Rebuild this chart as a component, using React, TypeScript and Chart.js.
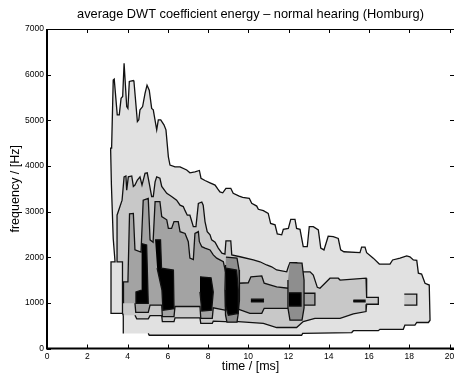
import React, { useEffect, useRef } from 'react';
import { Chart, registerables } from 'chart.js';

Chart.register(...registerables);

const TITLE = 'average DWT coefficient energy – normal hearing (Homburg)';
const X_LABEL = 'time / [ms]';
const Y_LABEL = 'frequency / [Hz]';
const X_TICKS = [0, 2, 4, 6, 8, 10, 12, 14, 16, 18, 20];
const Y_TICKS = [0, 1000, 2000, 3000, 4000, 5000, 6000, 7000];

// Contour regions: time in ms, frequency in Hz
// Level 1 (lowest energy, outermost region)
const L1_T = [3.79, 3.79, 3.18, 3.18, 3.38, 3.29, 3.20, 3.16, 3.21, 3.29, 3.34, 3.49, 3.59, 3.68, 3.76, 3.83, 3.96, 4.02, 4.09, 4.29, 4.32, 4.49, 4.56, 4.62, 4.75, 4.87, 4.97, 5.08, 5.20, 5.28, 5.45, 5.53, 5.65, 5.81, 5.91, 6.03, 6.11, 6.36, 6.61, 6.94, 7.10, 7.35, 7.57, 7.65, 7.85, 8.10, 8.35, 8.49, 8.59, 8.73, 8.89, 9.13, 9.25, 9.55, 9.72, 10.05, 10.17, 10.42, 10.50, 10.75, 10.99, 11.11, 11.33, 11.44, 11.66, 11.74, 11.99, 12.11, 12.32, 12.40, 12.57, 12.73, 12.93, 13.03, 13.23, 13.48, 13.60, 13.76, 13.97, 14.22, 14.47, 14.59, 14.75, 15.55, 15.63, 15.80, 15.88, 16.21, 16.51, 17.04, 17.17, 17.54, 17.87, 18.03, 18.20, 18.37, 18.45, 18.61, 18.78, 18.99, 19.03, 18.95, 18.37, 18.28, 17.78, 17.70, 16.54, 16.46, 15.22, 15.14, 12.70, 12.65, 5.08, 5.03];
const L1_F = [330, 770, 770, 1900, 1900, 2410, 3580, 4390, 4390, 5880, 5900, 5120, 5120, 5480, 5520, 6250, 5300, 5260, 5850, 5870, 5850, 4970, 5010, 5230, 5300, 5590, 5770, 5660, 5260, 5230, 4790, 5010, 5010, 4900, 4790, 4200, 4020, 3980, 3980, 3910, 3850, 3870, 3900, 3730, 3680, 3630, 3580, 3490, 3430, 3410, 3510, 3510, 3400, 3340, 3310, 3290, 3180, 3120, 3050, 3020, 2960, 2740, 2710, 2510, 2490, 2610, 2630, 2830, 2830, 2630, 2610, 2230, 2230, 2670, 2670, 2600, 2200, 2160, 2460, 2450, 2410, 2160, 2120, 2100, 2220, 2220, 2100, 1980, 1850, 1850, 1940, 1980, 2030, 2010, 1940, 1930, 1650, 1630, 1430, 1390, 620, 570, 570, 510, 510, 420, 420, 390, 390, 350, 330, 290, 290, 330];

// Level 2
const L2_T = [3.79, 3.75, 3.75, 3.48, 3.48, 3.73, 3.83, 3.92, 3.96, 4.04, 4.21, 4.29, 4.37, 4.49, 4.62, 4.72, 4.87, 4.98, 5.08, 5.20, 5.28, 5.37, 5.45, 5.61, 5.70, 5.95, 6.19, 6.44, 6.61, 6.77, 6.86, 6.97, 7.10, 7.27, 7.40, 7.52, 7.69, 7.76, 7.85, 7.96, 8.10, 8.18, 8.35, 8.51, 8.69, 8.84, 8.89, 9.13, 9.18, 9.59, 10.25, 10.58, 10.91, 11.16, 11.41, 11.91, 11.99, 12.07, 12.40, 12.57, 12.65, 13.07, 13.23, 13.43, 13.56, 13.97, 14.06, 14.47, 14.56, 15.22, 15.85, 15.88, 16.46, 16.46, 15.88, 15.85, 15.22, 14.56, 13.31, 12.73, 12.40, 11.41, 10.75, 9.50, 8.84, 8.26, 8.21, 7.64, 7.60, 6.36, 6.31, 5.73, 5.70, 5.12, 5.03, 4.46, 4.37];
const L2_F = [730, 780, 1900, 1900, 2920, 3250, 3760, 3780, 3470, 3760, 3780, 3550, 3580, 3690, 3760, 3580, 3840, 3850, 3620, 3330, 3330, 3650, 3760, 3730, 3550, 3400, 3330, 3250, 3140, 3110, 3020, 2920, 2920, 2670, 2670, 3180, 3210, 3140, 2780, 2560, 2490, 2380, 2330, 2200, 2090, 2070, 2360, 2360, 2050, 2010, 1940, 1900, 1830, 1790, 1720, 1680, 1790, 1880, 1880, 1790, 1680, 1680, 1610, 1340, 1320, 1500, 1540, 1540, 1500, 1520, 1540, 1120, 1120, 970, 970, 810, 760, 660, 660, 590, 460, 460, 550, 590, 590, 600, 550, 550, 670, 670, 590, 590, 720, 720, 650, 650, 730];
const L2_ISLAND_T = [17.75, 18.37, 18.37, 17.75];
const L2_ISLAND_F = [1190, 1190, 950, 950];

// Level 3
const L3_T = [3.80, 3.80, 4.02, 4.10, 4.29, 4.37, 4.67, 4.78, 5.03, 5.12, 5.27, 5.37, 5.61, 5.70, 5.95, 6.03, 6.19, 6.31, 6.52, 6.61, 6.86, 7.02, 7.10, 7.27, 7.35, 7.52, 7.57, 7.69, 7.85, 8.10, 8.26, 8.43, 8.76, 8.87, 9.50, 10.00, 10.13, 10.67, 10.79, 11.41, 11.99, 12.73, 13.31, 13.31, 12.73, 11.99, 10.79, 10.67, 10.08, 9.50, 8.84, 8.26, 8.21, 7.64, 7.60, 6.36, 6.31, 5.73, 5.70, 5.12, 5.03, 4.41, 4.37];
const L3_F = [990, 1460, 1460, 2950, 2960, 2160, 2110, 3250, 3290, 2380, 2330, 3220, 3220, 2890, 2820, 2630, 2630, 2780, 2780, 2560, 2520, 2340, 1980, 1950, 2520, 2560, 2340, 2230, 2200, 2160, 2050, 1980, 1900, 1680, 1430, 1440, 1570, 1590, 1430, 1350, 1320, 1210, 1210, 950, 950, 880, 880, 770, 770, 860, 840, 890, 660, 660, 920, 920, 700, 700, 950, 950, 790, 790, 990];

// Level 4
const L4A_T = [8.89, 9.44, 9.54, 9.56, 9.49, 9.44, 8.94, 8.87, 8.84, 8.87];
const L4A_F = [2000, 1980, 1720, 1060, 730, 580, 580, 730, 1280, 1830];
const L4B_T = [12.07, 12.67, 12.77, 12.77, 12.67, 12.07, 11.97, 11.97];
const L4B_F = [1880, 1870, 1500, 890, 620, 620, 890, 1500];

// Level 5 (highest energy)
const L5A_T = [4.70, 4.95, 5.03, 4.42, 4.42, 4.70];
const L5A_F = [2300, 2270, 990, 990, 1240, 1280];
const L5B_T = [5.37, 5.64, 5.69, 6.28, 6.31, 5.76, 5.71, 5.47];
const L5B_F = [2380, 2380, 1760, 1720, 870, 840, 1280, 1760];
const L5C_T = [7.60, 8.15, 8.26, 8.18, 7.69, 7.60];
const L5C_F = [1570, 1550, 1240, 840, 820, 1240];
const L5D_T = [8.89, 9.42, 9.50, 9.50, 9.01, 8.88, 8.87];
const L5D_F = [1760, 1720, 1280, 770, 730, 920, 1280];
const L5E_T = [10.13, 10.75, 10.75, 10.13];
const L5E_F = [1080, 1080, 1020, 1020];
const L5F_T = [12.02, 12.62, 12.62, 12.02];
const L5F_F = [1220, 1220, 930, 930];
const L5G_T = [15.22, 15.80, 15.80, 15.22];
const L5G_F = [1060, 1060, 1020, 1020];

const REGIONS = [
  { level: 0, t: L1_T, f: L1_F },
  { level: 1, t: L2_T, f: L2_F },
  { level: 1, t: L2_ISLAND_T, f: L2_ISLAND_F },
  { level: 2, t: L3_T, f: L3_F },
  { level: 3, t: L4A_T, f: L4A_F },
  { level: 3, t: L4B_T, f: L4B_F },
  { level: 4, t: L5A_T, f: L5A_F },
  { level: 4, t: L5B_T, f: L5B_F },
  { level: 4, t: L5C_T, f: L5C_F },
  { level: 4, t: L5D_T, f: L5D_F },
  { level: 4, t: L5E_T, f: L5E_F },
  { level: 4, t: L5F_T, f: L5F_F },
  { level: 4, t: L5G_T, f: L5G_F },
];

const LEVEL_COLORS = ['#e1e1e1', '#c8c8c8', '#a3a3a3', '#8e8e8e', '#000000'];
const FONT = "'Liberation Sans', Arial, Helvetica, sans-serif";

const framePlugin = {
  id: 'matlabFrame',
  afterDraw(chart: any) {
    const { ctx, chartArea: a, scales } = chart;
    const xs = scales.x;
    const ys = scales.y;
    ctx.save();
    ctx.strokeStyle = '#000';
    ctx.lineWidth = 1;
    ctx.beginPath();
    for (const v of X_TICKS) {
      const px = Math.round(xs.getPixelForValue(v)) + 0.5;
      ctx.moveTo(px, a.bottom);
      ctx.lineTo(px, a.bottom - 4);
      ctx.moveTo(px, a.top);
      ctx.lineTo(px, a.top + 4);
    }
    for (const v of Y_TICKS) {
      const py = Math.round(ys.getPixelForValue(v)) + 0.5;
      ctx.moveTo(a.left, py);
      ctx.lineTo(a.left + 4, py);
      ctx.moveTo(a.right, py);
      ctx.lineTo(a.right - 4, py);
    }
    ctx.stroke();
    ctx.beginPath();
    ctx.moveTo(a.left, Math.round(a.top) + 0.5);
    ctx.lineTo(a.right, Math.round(a.top) + 0.5);
    ctx.stroke();
    ctx.lineWidth = 2;
    ctx.beginPath();
    ctx.moveTo(a.left, a.top);
    ctx.lineTo(a.left, a.bottom);
    ctx.lineTo(a.right, a.bottom);
    ctx.stroke();
    ctx.restore();
  },
};

export default function App() {
  const canvasRef = useRef<HTMLCanvasElement | null>(null);

  useEffect(() => {
    const canvas = canvasRef.current;
    if (!canvas) return;
    Chart.defaults.font.family = FONT;
    const datasets = REGIONS.map((r, i) => ({
      label: 'level ' + (r.level + 1) + ' #' + i,
      data: r.t.map((t, k) => ({ x: t, y: r.f[k] })),
      fill: 'shape',
      backgroundColor: LEVEL_COLORS[r.level],
      borderColor: '#111111',
      borderWidth: 1.3,
      pointRadius: 0,
      tension: 0,
      order: 10 - r.level,
    }));
    const chart = new Chart(canvas, {
      type: 'line',
      data: { datasets: datasets as any },
      options: {
        responsive: false,
        animation: false,
        events: [],
        layout: { padding: 0 },
        plugins: {
          legend: { display: false },
          tooltip: { enabled: false },
          title: {
            display: true,
            text: TITLE,
            color: '#000',
            fullSize: false,
            font: { size: 12.8, weight: 'normal', family: FONT },
            padding: { top: 6.3, bottom: 7.34 },
          },
        },
        scales: {
          x: {
            type: 'linear',
            min: 0,
            max: 20.22,
            afterBuildTicks: (s: any) => {
              s.ticks = X_TICKS.map((v) => ({ value: v }));
            },
            afterFit: (s: any) => {
              s.height = 29.5;
              s.paddingLeft = 0;
              s.paddingRight = 0;
            },
            grid: { display: false, drawTicks: false },
            border: { display: false },
            ticks: {
              color: '#000',
              font: { size: 8.5, family: FONT },
              padding: 3,
              maxRotation: 0,
              autoSkip: false,
              callback: (v: any) => String(v),
            },
            title: { display: true, text: X_LABEL, color: '#000', font: { size: 12.5, family: FONT }, padding: { top: 0, bottom: 3.8 } },
          },
          y: {
            type: 'linear',
            min: 0,
            max: 7000,
            afterBuildTicks: (s: any) => {
              s.ticks = Y_TICKS.map((v) => ({ value: v }));
            },
            afterFit: (s: any) => {
              s.width = 47;
              s.paddingTop = 0;
              s.paddingBottom = 0;
            },
            grid: { display: false, drawTicks: false },
            border: { display: false },
            ticks: {
              color: '#000',
              font: { size: 8.5, family: FONT },
              padding: 3,
              autoSkip: false,
              callback: (v: any) => String(v),
            },
            title: { display: true, text: Y_LABEL, color: '#000', font: { size: 12.5, family: FONT }, padding: { top: 7.8, bottom: 0 } },
          },
        },
      } as any,
      plugins: [framePlugin],
    });
    return () => chart.destroy();
  }, []);

  return (
    <div style={{ position: 'absolute', left: 0, top: 0, width: 454, height: 378, background: '#fff' }}>
      <canvas ref={canvasRef} width={454} height={378} style={{ display: 'block' }} />
    </div>
  );
}
